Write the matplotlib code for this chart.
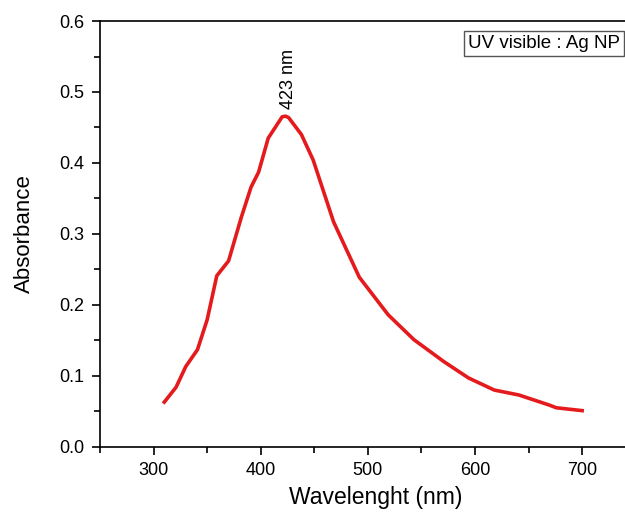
import matplotlib
matplotlib.use("Agg")
import matplotlib.pyplot as plt
from matplotlib.ticker import MultipleLocator

plt.rcParams['font.family'] = ['Liberation Sans', 'DejaVu Sans']

# UV-vis absorbance of the silver nanoparticle sample
wavelength = [310, 321, 330, 341, 350, 359, 370, 382, 391, 398, 407, 420, 423,
              426, 438, 449, 468, 492, 519, 543, 571, 594, 618, 641, 669, 676, 700]
absorbance = [0.063, 0.084, 0.113, 0.137, 0.179, 0.241, 0.262, 0.324, 0.366, 0.387,
              0.435, 0.465, 0.466, 0.464, 0.440, 0.404, 0.317, 0.239, 0.186, 0.151,
              0.120, 0.097, 0.080, 0.073, 0.059, 0.055, 0.051]
peak_nm = 423
peak_abs = 0.466

fig = plt.figure(figsize=(6.25, 5.13), dpi=100)
ax = fig.add_axes([0.16, 0.129, 0.84, 0.83])

ax.plot(wavelength, absorbance, color='#e41a1c', lw=2.6)

ax.set_xlim(250, 740)
ax.set_ylim(0, 0.6)
ax.xaxis.set_major_locator(MultipleLocator(100))
ax.xaxis.set_minor_locator(MultipleLocator(50))
ax.yaxis.set_major_locator(MultipleLocator(0.1))
ax.yaxis.set_minor_locator(MultipleLocator(0.05))
ax.yaxis.set_major_formatter(matplotlib.ticker.FormatStrFormatter('%.1f'))
ax.tick_params(which='both', direction='out', width=1.2, labelsize=13)
ax.tick_params(which='major', length=6, pad=5)
ax.tick_params(which='minor', length=4)
ax.spines['right'].set_visible(False)
for s in ['left', 'bottom', 'top']:
    ax.spines[s].set_linewidth(1.2)

ax.set_xlabel('Wavelenght (nm)', fontsize=16.5)
ax.xaxis.set_label_coords(0.525, -0.092)
ax.set_ylabel('Absorbance', fontsize=16, labelpad=18)

ax.annotate(f'{peak_nm} nm', xy=(peak_nm, peak_abs), xytext=(2, 5),
            textcoords='offset points', rotation=90, ha='center', va='bottom',
            fontsize=13)

ax.text(0.99, 0.968, 'UV visible : Ag NP', transform=ax.transAxes,
        ha='right', va='top', fontsize=13.5,
        bbox=dict(boxstyle='square,pad=0.22', fc='white', ec='#555555', lw=1))

fig.savefig('out.png', dpi=100)
